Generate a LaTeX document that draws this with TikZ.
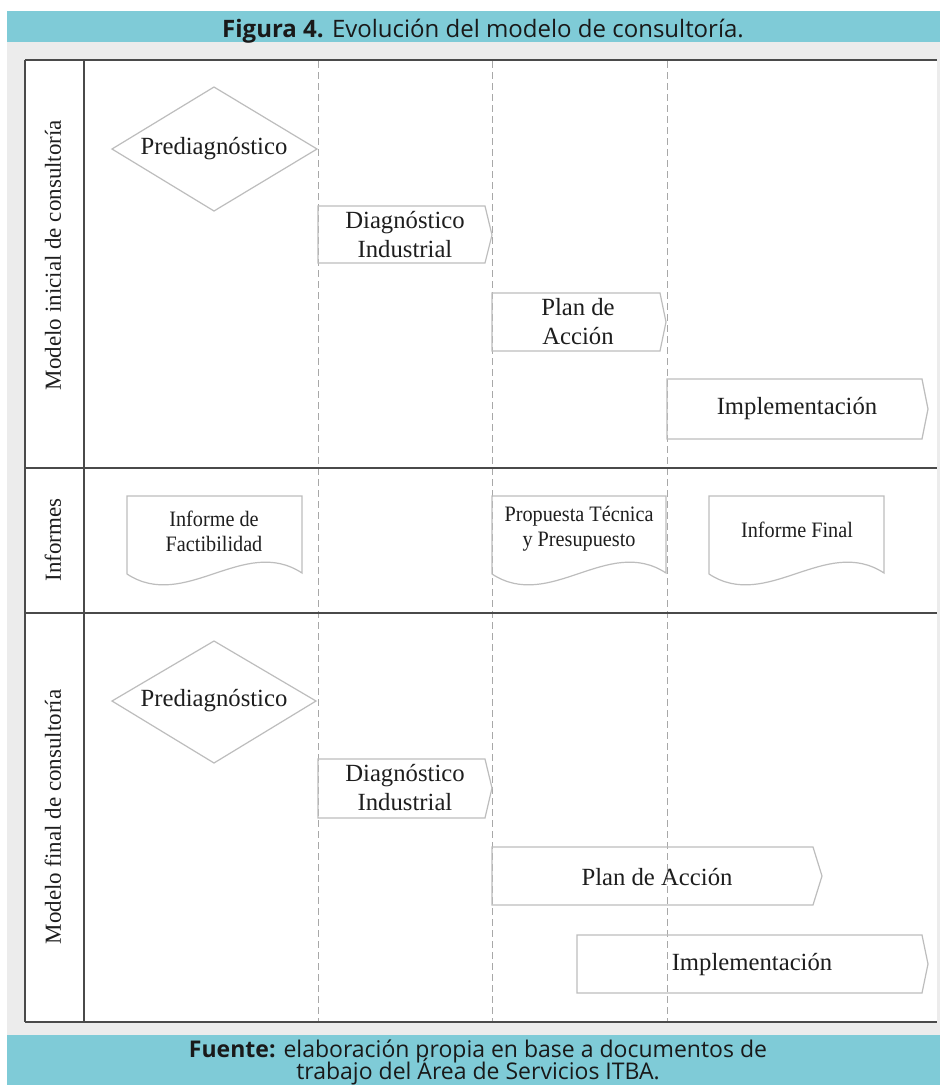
\documentclass[tikz,border=0pt]{standalone}
\usepackage{fontspec}
\setmainfont{Liberation Serif}
\newfontfamily\bannerfont{Open Sans}
\newfontfamily\docfont[FakeStretch=0.92]{Liberation Serif}
\definecolor{bannerteal}{HTML}{7FCBD7}
\definecolor{bggray}{HTML}{ECECEC}
\definecolor{framecol}{HTML}{4A4A4A}
\definecolor{lanecol}{HTML}{A8A8A8}
\definecolor{shapecol}{HTML}{BDBDBD}
\definecolor{txtcol}{HTML}{1E1E1E}
\tikzset{
  frameline/.style={draw=framecol, line width=2pt},
  laneline/.style={draw=lanecol, line width=1pt, dash pattern=on 7pt off 4pt},
  shp/.style={draw=shapecol, line width=1.2pt, line join=miter},
  lbl/.style={text=txtcol, font=\fontsize{24.7}{29}\selectfont, align=center, inner sep=0pt},
  doclbl/.style={text=txtcol, font=\docfont\fontsize{22}{25}\selectfont, align=center, inner sep=0pt},
  lanelbl/.style={text=txtcol, font=\fontsize{23}{28}\selectfont, rotate=90, inner sep=0pt},
  banner/.style={text=black!90, font=\bannerfont\fontsize{24}{22}\selectfont, align=center, inner sep=0pt},
  srcbanner/.style={text=black!90, font=\bannerfont\fontsize{23}{22}\selectfont, align=center, inner sep=0pt}
}
\begin{document}
\begin{tikzpicture}[x=1pt,y=-1pt]
\useasboundingbox (0,0) rectangle (940,1085);
\fill[white] (0,0) rectangle (940,1085);
% banners and background
\fill[bannerteal] (7,11) rectangle (940,42);
\fill[bggray] (7,42) rectangle (940,1035);
\fill[white] (25,60) rectangle (937,1022);
\fill[bannerteal] (7,1035) rectangle (940,1085);
\node[banner, anchor=base] (title) at (483,37) {\textbf{Figura 4.} Evolución del modelo de consultoría.};
\node[srcbanner, anchor=south] (src) at (478,1085) {\textbf{Fuente:} elaboración propia en base a documentos de\\[-6pt]trabajo del Área de Servicios ITBA.};
% lane dividers (dashed)
\draw[laneline] (318,61) -- (318,1021);
\draw[laneline] (492,61) -- (492,1021);
\draw[laneline] (667,61) -- (667,1021);
% frame
\draw[frameline] (25,60) -- (937,60);
\draw[frameline] (25,1022) -- (937,1022);
\draw[frameline] (25,60) -- (25,1022);
\draw[frameline] (84,60) -- (84,1022);
\draw[frameline] (25,468) -- (937,468);
\draw[frameline] (25,613) -- (937,613);
% lane labels
\node[lanelbl] (lane1) at (53,255) {Modelo inicial de consultoría};
\node[lanelbl] (lane2) at (53,540) {Informes};
\node[lanelbl] (lane3) at (53,817) {Modelo final de consultoría};
% ---- Row 1 ----
\draw[shp] (112,149) -- (214,87) -- (317,149) -- (214,211) -- cycle;
\node[lbl] (pre1) at (214,149) {Prediagnóstico};
\draw[shp] (318,206) -- (485,206) -- (492,235) -- (485,263) -- (318,263) -- cycle;
\node[lbl] (diag1) at (405,235) {Diagnóstico\\Industrial};
\draw[shp] (492,293) -- (660,293) -- (666,322) -- (660,351) -- (492,351) -- cycle;
\node[lbl] (plan1) at (578,322) {Plan de\\Acción};
\draw[shp] (667,379) -- (922,379) -- (928,409) -- (922,439) -- (667,439) -- cycle;
\node[lbl] (impl1) at (797,409) {Implementación};
% ---- Row 2: documents ----
\draw[shp] (127,574) -- (127,496) -- (302,496) -- (302,573)
  .. controls (244,535) and (185,612) .. (127,574);
\node[doclbl] (inf1) at (214,531) {Informe de\\Factibilidad};
\draw[shp] (492,574) -- (492,496) -- (666,496) -- (666,573)
  .. controls (608,535) and (550,612) .. (492,574);
\node[doclbl] (inf2) at (579,529) {Propuesta Técnica\\y Presupuesto};
\draw[shp] (709,574) -- (709,496) -- (884,496) -- (884,573)
  .. controls (826,535) and (767,612) .. (709,574);
\node[doclbl] (inf3) at (797,530) {Informe Final};
% ---- Row 3 ----
\draw[shp] (112,701) -- (214,641) -- (316,701) -- (214,763) -- cycle;
\node[lbl] (pre2) at (214,701) {Prediagnóstico};
\draw[shp] (318,759) -- (485,759) -- (492,788) -- (485,818) -- (318,818) -- cycle;
\node[lbl] (diag2) at (405,788) {Diagnóstico\\Industrial};
\draw[shp] (492,847) -- (813,847) -- (822,876) -- (813,905) -- (492,905) -- cycle;
\node[lbl] (plan2) at (657,877) {Plan de Acción};
\draw[shp] (577,935) -- (922,935) -- (928,964) -- (922,993) -- (577,993) -- cycle;
\node[lbl] (impl2) at (752,965) {Implementación};
\end{tikzpicture}
\end{document}
